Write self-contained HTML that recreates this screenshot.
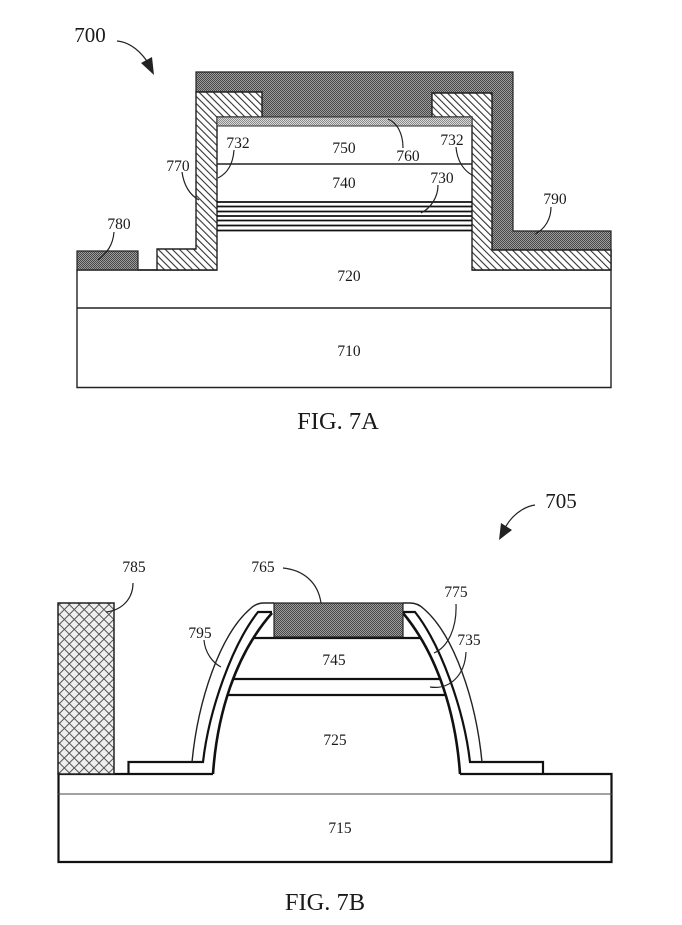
<!DOCTYPE html>
<html>
<head>
<meta charset="utf-8">
<style>
html,body{margin:0;padding:0;background:#fff;}
svg{display:block;}
text{font-family:"Liberation Serif",serif;fill:#1a1a1a;text-anchor:middle;}
.l{font-size:15.500px;}
.b{font-size:21px;}
.f{font-size:24.500px;}
.ld{fill:none;stroke:#222;stroke-width:1.2;}
.o{fill:none;stroke:#222;stroke-width:1.4;}
.t{fill:none;stroke:#111;stroke-width:2.2;}
</style>
</head>
<body>
<svg width="682" height="925" viewBox="0 0 682 925" xmlns="http://www.w3.org/2000/svg">
<defs>
<pattern id="dk" width="2" height="2" patternUnits="userSpaceOnUse">
<rect width="2" height="2" fill="#9c9c9c"/><rect width="1" height="1" fill="#484848"/><rect x="1" y="1" width="1" height="1" fill="#484848"/>
</pattern>
<pattern id="lt" width="2" height="2" patternUnits="userSpaceOnUse">
<rect width="2" height="2" fill="#d8d8d8"/><rect width="1" height="1" fill="#8c8c8c"/><rect x="1" y="1" width="1" height="1" fill="#8c8c8c"/>
</pattern>
<pattern id="ha" width="5" height="5" patternUnits="userSpaceOnUse" patternTransform="rotate(-45)">
<rect width="5" height="5" fill="#fff"/><rect width="1.100" height="5" fill="#333"/>
</pattern>
<pattern id="xh" width="7" height="7" patternUnits="userSpaceOnUse" patternTransform="rotate(45)">
<rect width="7" height="7" fill="#efefef"/><rect width="1" height="7" fill="#555"/><rect width="7" height="1" fill="#555"/>
</pattern>
</defs>
<rect width="682" height="925" fill="#fff"/>

<!-- FIG 7A -->
<path d="M217 270H77V387.500H611V250M472 270H611" class="o"/>
<line x1="77" y1="308" x2="611" y2="308" class="o"/>

<!-- dark layer 790 -->
<path d="M196 72H513V231H611V250H492V93H432V117H262V92H196Z" fill="url(#dk)" stroke="#222" stroke-width="1.2"/>
<!-- hatch layer 770 -->
<path d="M196 92H262V117H217V270H157V249H196Z" fill="url(#ha)" stroke="#222" stroke-width="1.4"/>
<path d="M432 93H492V250H611V270H472V117H432Z" fill="url(#ha)" stroke="#222" stroke-width="1.4"/>
<!-- 780 -->
<rect x="77" y="251" width="61" height="19" fill="url(#dk)" stroke="#222" stroke-width="1.2"/>
<line x1="138" y1="270" x2="157" y2="270" class="o"/>
<!-- 760 -->
<rect x="217" y="117" width="255" height="9" fill="url(#lt)" stroke="#333" stroke-width="1"/>
<!-- 750/740 line -->
<line x1="217" y1="164" x2="472" y2="164" class="o"/>
<!-- 730 MQW -->
<g stroke="#111" stroke-width="1.700">
<line x1="217" y1="202" x2="472" y2="202"/>
<line x1="217" y1="206.500" x2="472" y2="206.500"/>
<line x1="217" y1="211.500" x2="472" y2="211.500"/>
<line x1="217" y1="216" x2="472" y2="216"/>
<line x1="217" y1="220.500" x2="472" y2="220.500"/>
<line x1="217" y1="225.500" x2="472" y2="225.500"/>
<line x1="217" y1="230.500" x2="472" y2="230.500"/>
</g>

<!-- leaders 7A -->
<path class="ld" d="M234 150C233 164 228 173 218 178"/>
<path class="ld" d="M182 172C184 186 190 195 199 200"/>
<path class="ld" d="M114 232C113 245 107 253 98 260"/>
<path class="ld" d="M388 119C397 123 403 133 403 148"/>
<path class="ld" d="M456 147C457 160 463 170 472 175"/>
<path class="ld" d="M438 185C438 197 431 208 421 213"/>
<path class="ld" d="M551 207C551 219 545 229 535 234"/>

<!-- arrow 700 -->
<path class="ld" d="M117 41C130 42 142 52 150 66"/>
<path d="M154 75L141 63L152 57Z" fill="#222"/>

<text class="l" x="119" y="229">780</text>
<text class="l" x="178" y="171">770</text>
<text class="l" x="238" y="148">732</text>
<text class="l" x="344" y="153">750</text>
<text class="l" x="344" y="188">740</text>
<text class="l" x="408" y="161">760</text>
<text class="l" x="452" y="145">732</text>
<text class="l" x="442" y="183">730</text>
<text class="l" x="555" y="204">790</text>
<text class="l" x="349" y="281">720</text>
<text class="l" x="349" y="356">710</text>
<text class="b" x="90" y="42">700</text>
<text class="f" x="338" y="429">FIG. 7A</text>

<!-- FIG 7B -->
<path d="M213 774H58.500V862H611.500V774H460" class="t"/>
<line x1="58" y1="794" x2="612" y2="794" stroke="#444" stroke-width="1"/>
<rect x="58" y="603" width="56" height="171" fill="url(#xh)" stroke="#222" stroke-width="1.500"/>

<!-- foot and mesa layers -->
<path d="M128.500 774V762H203C209 710 232 645 258 612H272" class="t"/>
<path d="M543 774V762H470C464 710 441 645 415 612H403" class="t"/>
<path d="M213 774C217 715 235 655 272 613" class="t" style="stroke-width:2.600"/>
<path d="M460 774C456 715 438 655 403 613" class="t" style="stroke-width:2.600"/>
<path d="M192 762C198 700 220 635 250 609Q256 603 264 603H274" class="o"/>
<path d="M482 762C476 700 454 635 424 609Q418 603 410 603H403" class="o"/>

<line x1="253" y1="638" x2="420" y2="638" class="t"/>
<line x1="234" y1="679" x2="440" y2="679" class="t"/>
<line x1="228" y1="695" x2="445" y2="695" class="t"/>
<rect x="274" y="603" width="129" height="34" fill="url(#dk)" stroke="#222" stroke-width="1.200"/>

<!-- leaders 7B -->
<path class="ld" d="M283 568C303 570 318 582 321 603"/>
<path class="ld" d="M133 583C133 598 123 610 106 612"/>
<path class="ld" d="M204 640C205 653 213 663 221 667"/>
<path class="ld" d="M456 604C457 628 448 647 434 653"/>
<path class="ld" d="M466 652C465 675 450 690 430 687"/>

<!-- arrow 705 -->
<path class="ld" d="M535 505C522 507 510 517 504 530"/>
<path d="M499 540L501 523L512 530Z" fill="#222"/>

<text class="l" x="134" y="572">785</text>
<text class="l" x="263" y="572">765</text>
<text class="l" x="200" y="638">795</text>
<text class="l" x="456" y="597">775</text>
<text class="l" x="469" y="645">735</text>
<text class="l" x="334" y="665">745</text>
<text class="l" x="335" y="745">725</text>
<text class="l" x="340" y="833">715</text>
<text class="b" x="561" y="508">705</text>
<text class="f" x="325" y="910">FIG. 7B</text>
</svg>
</body>
</html>
